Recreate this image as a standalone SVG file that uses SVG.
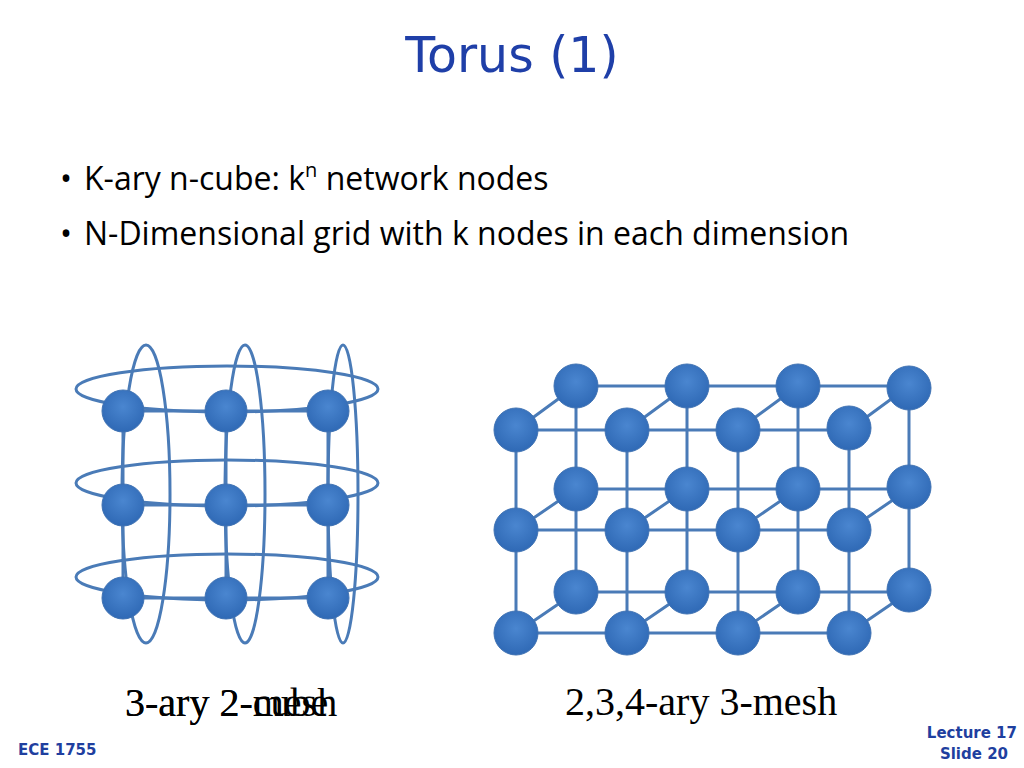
<svg xmlns="http://www.w3.org/2000/svg" width="1024" height="768" viewBox="0 0 1024 768">
<style>
.e{stroke:#4a7bb7;stroke-width:3;fill:none}
.n{fill:url(#g);stroke:#3f72b3;stroke-width:1}
.lab{font-family:"Liberation Serif",serif;font-size:40px;fill:#000}
.bul{font-family:"Open Sans","Liberation Sans",sans-serif;font-size:32px;fill:#000}
.ft{font-family:"DejaVu Sans",sans-serif;font-size:15px;font-weight:bold;fill:#1f3f9f}
</style>
<defs>
<radialGradient id="g" cx="50%" cy="40%" r="60%"><stop offset="0" stop-color="#4a86d0"/><stop offset="1" stop-color="#2f69b5"/></radialGradient>
</defs>
<rect width="1024" height="768" fill="#fff"/>
<text x="512" y="72" text-anchor="middle" font-family="DejaVu Sans,sans-serif" font-size="49" fill="#1f3fa8">Torus (1)</text>
<text class="bul" x="60" y="190" font-size="24">•</text><text class="bul" x="84" y="190">K-ary n-cube:  k<tspan dy="-13" font-size="20">n</tspan><tspan dy="13"> network nodes</tspan></text>
<text class="bul" x="60" y="245" font-size="24">•</text><text class="bul" x="84" y="245">N-Dimensional grid with k nodes in each dimension</text>
<g id="connectors">
<g class="e">
<ellipse cx="227" cy="389" rx="151" ry="23"/>
<ellipse cx="227" cy="483" rx="151" ry="23"/>
<ellipse cx="227" cy="577" rx="151" ry="23"/>
<ellipse cx="146" cy="494" rx="24" ry="149"/>
<ellipse cx="245" cy="494" rx="20" ry="149"/>
<ellipse cx="343" cy="494" rx="15" ry="149"/>
<path d="M123 411H328M123 505H328M123 598H328M123 411V598M226 411V598M328 411V598"/>
<path d="M576 386H909M576 489H909M576 592H909M576 386V592M687 386V592M798 386V592M909 386V592"/>
<path d="M516 430H849M516 530H849M516 633H849M516 430V633M627 430V633M738 430V633M849 430V633"/>
<path d="M516 430L576 386M627 430L687 386M738 430L798 386M849 430L909 386M516 530L576 489M627 530L687 489M738 530L798 489M849 530L909 489M516 633L576 592M627 633L687 592M738 633L798 592M849 633L909 592"/>
</g>
</g>
<g id="torus-nodes">
<circle class="n" cx="123" cy="411" r="21"/><circle class="n" cx="226" cy="411" r="21"/><circle class="n" cx="328" cy="411" r="21"/>
<circle class="n" cx="123" cy="505" r="21"/><circle class="n" cx="226" cy="505" r="21"/><circle class="n" cx="328" cy="505" r="21"/>
<circle class="n" cx="123" cy="598" r="21"/><circle class="n" cx="226" cy="598" r="21"/><circle class="n" cx="328" cy="598" r="21"/>
</g>
<g id="mesh-nodes">
<circle class="n" cx="576" cy="386" r="22"/><circle class="n" cx="687" cy="386" r="22"/><circle class="n" cx="798" cy="386" r="22"/><circle class="n" cx="909" cy="388" r="22"/>
<circle class="n" cx="576" cy="489" r="22"/><circle class="n" cx="687" cy="489" r="22"/><circle class="n" cx="798" cy="489" r="22"/><circle class="n" cx="909" cy="487" r="22"/>
<circle class="n" cx="576" cy="592" r="22"/><circle class="n" cx="687" cy="592" r="22"/><circle class="n" cx="798" cy="592" r="22"/><circle class="n" cx="909" cy="590" r="22"/>
<circle class="n" cx="516" cy="430" r="22"/><circle class="n" cx="627" cy="430" r="22"/><circle class="n" cx="738" cy="430" r="22"/><circle class="n" cx="849" cy="428" r="22"/>
<circle class="n" cx="516" cy="530" r="22"/><circle class="n" cx="627" cy="530" r="22"/><circle class="n" cx="738" cy="530" r="22"/><circle class="n" cx="849" cy="530" r="22"/>
<circle class="n" cx="516" cy="633" r="22"/><circle class="n" cx="627" cy="633" r="22"/><circle class="n" cx="738" cy="633" r="22"/><circle class="n" cx="849" cy="633" r="22"/>
</g>
<text class="lab" x="125" y="716">3-ary 2-mesh</text>
<text class="lab" x="125" y="716">3-ary 2-cube</text>
<text class="lab" x="565" y="715">2,3,4-ary 3-mesh</text>
<text class="ft" x="18" y="755">ECE 1755</text>
<text class="ft" x="1017" y="738" text-anchor="end">Lecture 17</text>
<text class="ft" x="1008" y="759" text-anchor="end">Slide 20</text>
</svg>
